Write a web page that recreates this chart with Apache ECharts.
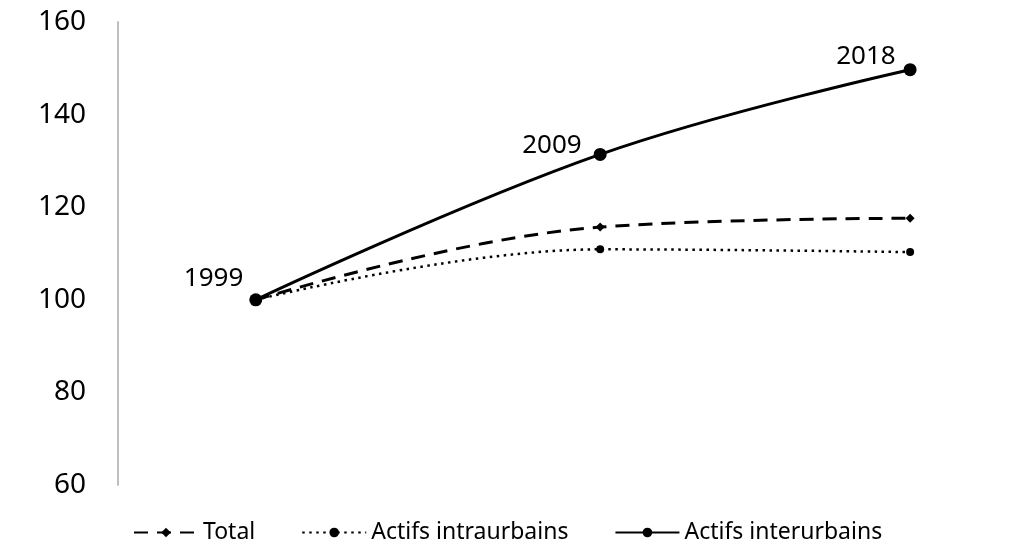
<!DOCTYPE html>
<html>
<head>
<meta charset="utf-8">
<script src="https://cdn.jsdelivr.net/npm/echarts@6/dist/echarts.min.js"></script>
<style>
html, body { margin: 0; padding: 0; background: #fff; }
#chart { width: 1033px; height: 550px; }
</style>
</head>
<body>
<div id="chart"></div>
<script>
var years = [1999, 2009, 2018];
var total = [100, 115.7, 117.6];
var intraurbains = [100, 110.9, 110.3];
var interurbains = [100, 131.4, 149.7];
var yTicks = [60, 80, 100, 120, 140, 160];
// label nudges for the year labels on the interurbains line
var labelOffsets = [[-4, -21], [-10, -9], [-6, -13]];

function pairs(vals) {
    return years.map(function(y, i) { return [y, vals[i]]; });
}

var myChart = echarts.init(document.getElementById('chart'));
var font = 'Noto Sans';
var option = {
    animation: false,
    textStyle: { fontFamily: font },
    grid: {
        left: 118,
        right: 54,
        top: 22,
        bottom: 65
    },
    legend: {
        bottom: 1,
        left: 128,
        itemWidth: 64,
        itemHeight: 12,
        itemGap: 46,
        textStyle: { fontSize: 23, color: '#000', fontFamily: font },
        data: ['Total', 'Actifs intraurbains', 'Actifs interurbains']
    },
    xAxis: {
        type: 'value',
        min: 1995,
        max: 2020,
        show: false
    },
    yAxis: {
        type: 'value',
        min: yTicks[0],
        max: yTicks[yTicks.length - 1],
        interval: 20,
        axisLine: { show: true, lineStyle: { color: '#bfbfbf', width: 2 } },
        axisTick: { show: false },
        splitLine: { show: false },
        axisLabel: { fontSize: 28, color: '#000', margin: 32, fontFamily: font }
    },
    series: [
        {
            name: 'Total',
            type: 'line',
            smooth: 0.4,
            data: pairs(total),
            symbol: 'diamond',
            symbolSize: 9,
            itemStyle: { color: '#000' },
            lineStyle: { color: '#000', width: 3, type: [14, 9] }
        },
        {
            name: 'Actifs intraurbains',
            type: 'line',
            smooth: 0.4,
            data: pairs(intraurbains),
            symbol: 'circle',
            symbolSize: 8,
            itemStyle: { color: '#000' },
            lineStyle: { color: '#000', width: 2.5, type: [2.5, 4.5] }
        },
        {
            name: 'Actifs interurbains',
            type: 'line',
            smooth: 0.4,
            data: pairs(interurbains).map(function(p, i) {
                return { value: p, label: { offset: labelOffsets[i] } };
            }),
            symbol: 'circle',
            symbolSize: 13,
            itemStyle: { color: '#000' },
            lineStyle: { color: '#000', width: 3 },
            label: {
                show: true,
                position: 'left',
                distance: 2,
                fontSize: 26,
                color: '#000',
                fontFamily: font,
                formatter: function(p) { return p.value[0]; }
            }
        }
    ]
};
myChart.setOption(option);
</script>
</body>
</html>
